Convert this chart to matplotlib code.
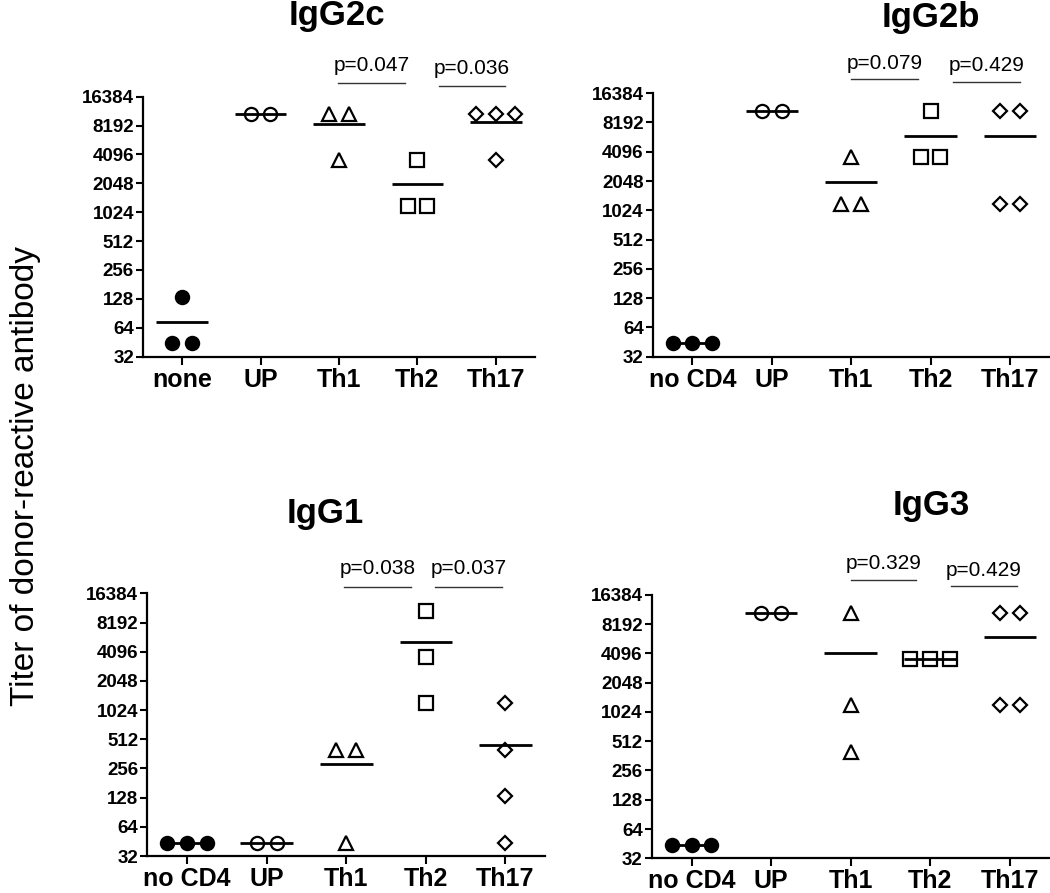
import numpy as np
import matplotlib
matplotlib.use('Agg')
import matplotlib.pyplot as plt
from matplotlib.ticker import FixedLocator, NullLocator

plt.rcParams['font.family'] = ['Liberation Sans', 'DejaVu Sans']

# kelompok sampel
groups_top_left = ['none', 'UP', 'Th1', 'Th2', 'Th17']
groups_other = ['no CD4', 'UP', 'Th1', 'Th2', 'Th17']

# titer per kelompok
igg2c = [[44, 44, 133], [10800, 10800], [10800, 10800, 3600],
         [3600, 1200, 1200], [10800, 10800, 10800, 3600]]
igg2b = [[44, 44, 44], [10800, 10800], [3600, 1200, 1200],
         [10800, 3600, 3600], [10800, 10800, 1200, 1200]]
igg1 = [[44, 44, 44], [44, 44], [400, 400, 44],
        [10800, 3600, 1200], [1200, 400, 133, 44]]
igg3 = [[44, 44, 44], [10800, 10800], [10800, 1200, 400],
        [3600, 3600, 3600], [10800, 10800, 1200, 1200]]

p_igg2c = ['p=0.047', 'p=0.036']
p_igg2b = ['p=0.079', 'p=0.429']
p_igg1 = ['p=0.038', 'p=0.037']
p_igg3 = ['p=0.329', 'p=0.429']

yticks = [32, 64, 128, 256, 512, 1024, 2048, 4096, 8192, 16384]

markers = [('o', 'black', 9.5), ('o', 'none', 9.5), ('^', 'none', 9.5),
           ('s', 'none', 10.5), ('D', 'none', 7)]

fig = plt.figure(figsize=(10.5, 8.93), dpi=100)


def draw_panel(rect, data, labels, pvals, brackets, title, title_xy):
    ax = fig.add_axes(rect)
    for i, vals in enumerate(data):
        m, fc, ms = markers[i]
        xs, ys = [], []
        for v in sorted(set(vals), reverse=True):
            k = vals.count(v)
            for j in range(k):
                xs.append(i + (j - (k - 1) / 2) * 0.25)
                ys.append(v)
        ax.hlines(np.mean(vals), i - 0.33, i + 0.33, color='black', lw=2, zorder=2)
        ax.plot(xs, ys, ls='none', marker=m, mfc=fc, mec='black', mew=1.6,
                ms=ms, zorder=3, clip_on=False)
    ax.set_yscale('log', base=2)
    ax.set_ylim(32, 16384)
    ax.set_xlim(-0.5, 4.5)
    ax.yaxis.set_major_locator(FixedLocator(yticks))
    ax.yaxis.set_minor_locator(NullLocator())
    ax.set_yticklabels([str(t) for t in yticks], fontsize=13.5, fontweight='bold')
    ax.set_xticks(range(len(labels)))
    ax.set_xticklabels(labels, fontsize=18, fontweight='bold')
    for s in ['top', 'right']:
        ax.spines[s].set_visible(False)
    for s in ['left', 'bottom']:
        ax.spines[s].set_linewidth(1.6)
    ax.tick_params(axis='y', length=5, width=1.5, pad=1.5)
    ax.tick_params(axis='x', length=6, width=1.5, pad=2)
    tr = ax.get_xaxis_transform()
    for (x0, x1, yl, yt), p in zip(brackets, pvals):
        ax.plot([x0, x1], [yl, yl], color='#333333', lw=1, transform=tr, clip_on=False)
        ax.text((x0 + x1) / 2, yt, p, transform=tr, ha='center', va='bottom', fontsize=15)
    fig.text(title_xy[0], title_xy[1], title, ha='center', va='baseline',
             fontsize=25, fontweight='bold')
    return ax


draw_panel([0.1362, 0.6006, 0.3733, 0.2912], igg2c, groups_top_left, p_igg2c,
           [(1.99, 2.84, 1.053, 1.085), (3.27, 4.12, 1.041, 1.072)],
           'IgG2c', (0.321, 0.972))
draw_panel([0.6216, 0.6006, 0.378, 0.295], igg2b, groups_other, p_igg2b,
           [(2.0, 2.84, 1.054, 1.075), (3.28, 4.13, 1.043, 1.068)],
           'IgG2b', (0.8867, 0.970))
draw_panel([0.1403, 0.0414, 0.379, 0.2942], igg1, groups_other, p_igg1,
           [(1.97, 2.81, 1.024, 1.058), (3.12, 3.96, 1.024, 1.058)],
           'IgG1', (0.3095, 0.4143))
draw_panel([0.6207, 0.0389, 0.3791, 0.2949], igg3, groups_other, p_igg3,
           [(2.0, 2.82, 1.057, 1.082), (3.26, 4.09, 1.034, 1.058)],
           'IgG3', (0.8867, 0.4233))

fig.text(0.024, 0.467, 'Titer of donor-reactive antibody', rotation=90,
         ha='center', va='center', fontsize=24)

fig.savefig('out.png', dpi=100, facecolor='white')
